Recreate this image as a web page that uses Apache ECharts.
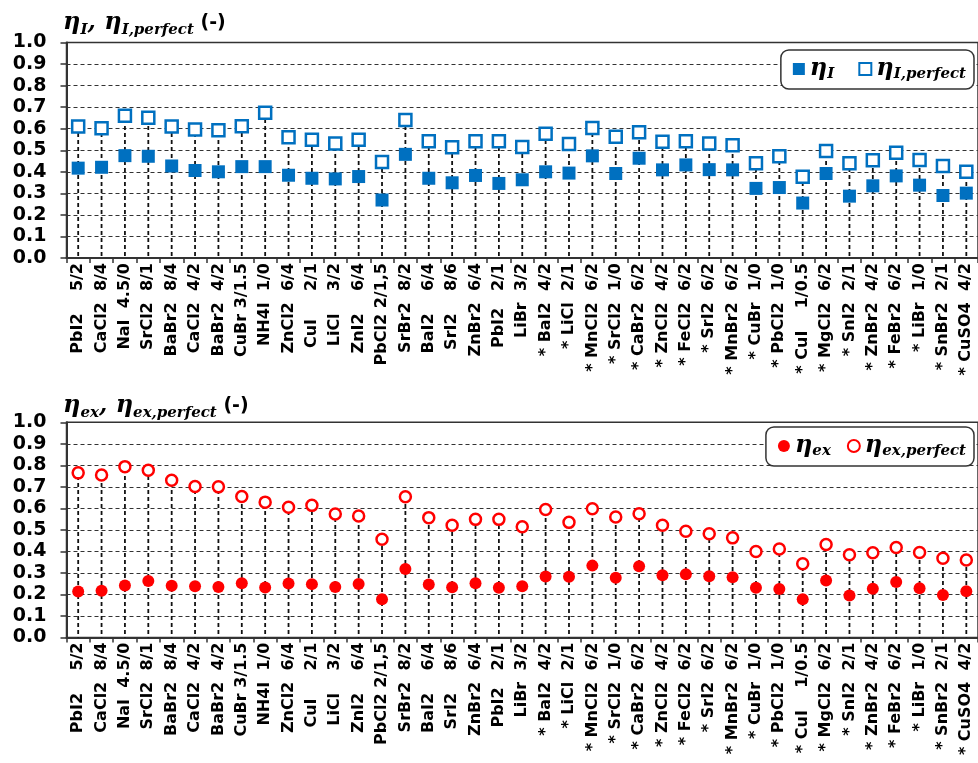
<!DOCTYPE html>
<html>
<head>
<meta charset="utf-8">
<script src="https://cdn.jsdelivr.net/npm/echarts@6/dist/echarts.min.js"></script>
<style>
  html, body { margin: 0; padding: 0; background: #fff; }
  #chart { width: 978px; height: 763px; }
</style>
</head>
<body>
<div id="chart"></div>
<script>
// Salt / hydration-step labels (name + ratio), shared by both panels
const categories = [
  'PbI2    5/2', 'CaCl2  8/4', 'NaI  4.5/0', 'SrCl2  8/1', 'BaBr2  8/4',
  'CaCl2  4/2', 'BaBr2  4/2', 'CuBr 3/1.5', 'NH4I  1/0', 'ZnCl2  6/4',
  'CuI     2/1', 'LiCl    3/2', 'ZnI2    6/4', 'PbCl2 2/1,5', 'SrBr2  8/2',
  'BaI2    6/4', 'SrI2    8/6', 'ZnBr2  6/4', 'PbI2   2/1', 'LiBr  3/2',
  '* BaI2  4/2', '* LiCl  2/1', '* MnCl2  6/2', '* SrCl2  1/0', '* CaBr2  6/2',
  '* ZnCl2  4/2', '* FeCl2  6/2', '* SrI2  6/2', '* MnBr2  6/2', '* CuBr  1/0',
  '* PbCl2  1/0', '* CuI    1/0.5', '* MgCl2  6/2', '* SnI2  2/1', '* ZnBr2  4/2',
  '* FeBr2  6/2', '* LiBr  1/0', '* SnBr2  2/1', '* CuSO4  4/2'
];

// Energy efficiency (top panel)
const etaI = [
  0.417, 0.421, 0.475, 0.472, 0.427, 0.406, 0.400, 0.424, 0.424, 0.384,
  0.370, 0.367, 0.378, 0.269, 0.481, 0.370, 0.349, 0.383, 0.346, 0.363,
  0.400, 0.394, 0.474, 0.392, 0.463, 0.409, 0.432, 0.410, 0.409, 0.323,
  0.327, 0.255, 0.392, 0.287, 0.335, 0.381, 0.338, 0.290, 0.301
];
const etaIPerfect = [
  0.610, 0.602, 0.660, 0.651, 0.610, 0.596, 0.593, 0.611, 0.674, 0.560,
  0.549, 0.531, 0.549, 0.446, 0.640, 0.542, 0.514, 0.542, 0.542, 0.515,
  0.576, 0.529, 0.603, 0.563, 0.583, 0.539, 0.542, 0.531, 0.523, 0.440,
  0.472, 0.377, 0.497, 0.440, 0.454, 0.488, 0.455, 0.427, 0.400
];

// Exergy efficiency (bottom panel)
const etaEx = [
  0.214, 0.217, 0.242, 0.263, 0.240, 0.238, 0.235, 0.252, 0.232, 0.251,
  0.248, 0.235, 0.249, 0.178, 0.318, 0.246, 0.234, 0.252, 0.231, 0.238,
  0.283, 0.282, 0.334, 0.278, 0.331, 0.289, 0.294, 0.285, 0.280, 0.231,
  0.225, 0.178, 0.265, 0.195, 0.226, 0.258, 0.229, 0.198, 0.215
];
const etaExPerfect = [
  0.765, 0.755, 0.794, 0.777, 0.731, 0.702, 0.700, 0.655, 0.629, 0.605,
  0.614, 0.574, 0.565, 0.457, 0.654, 0.557, 0.522, 0.549, 0.549, 0.515,
  0.595, 0.535, 0.598, 0.560, 0.575, 0.522, 0.494, 0.482, 0.463, 0.400,
  0.411, 0.343, 0.432, 0.385, 0.394, 0.418, 0.395, 0.368, 0.360
];

const yTicks = [0, 0.1, 0.2, 0.3, 0.4, 0.5, 0.6, 0.7, 0.8, 0.9, 1.0];

const BLUE = '#0070C0';
const RED = '#FF0000';

// Small repeating dash tile used to paint the vertical drop lines
const dashTile = (() => {
  const c = document.createElement('canvas');
  c.width = 4; c.height = 7;
  const ctx = c.getContext('2d');
  ctx.fillStyle = '#111';
  ctx.fillRect(0, 0, 4, 4);
  return c;
})();

const serifIt = { fontFamily: 'DejaVu Serif', fontStyle: 'italic', fontWeight: 'bold', color: '#000' };
const richText = (big, small, lh, shift) => ({
  e: Object.assign({}, serifIt, { fontSize: big, lineHeight: lh, verticalAlign: 'middle' }),
  s: Object.assign({}, serifIt, { fontSize: small, lineHeight: shift, verticalAlign: 'bottom' }),
  c: { fontFamily: 'DejaVu Sans', fontWeight: 'bold', fontSize: 19, color: '#000', lineHeight: lh, verticalAlign: 'middle' }
});

const gridLeft = 66.5;
const gridWidth = 917.6;
const grids = [
  { left: gridLeft, top: 42.5, width: gridWidth, height: 215.5 },
  { left: gridLeft, top: 422.3, width: gridWidth, height: 215.2 }
].map(g => Object.assign(g, { show: true, borderColor: '#333', borderWidth: 1.5, backgroundColor: 'transparent' }));

function xAxisFor(idx) {
  return {
    type: 'category', gridIndex: idx, data: categories, boundaryGap: true,
    axisLine: { show: true, lineStyle: { color: '#333', width: 2 } },
    axisTick: { show: true, length: 5, lineStyle: { color: '#333', width: 1.5 } },
    axisLabel: {
      interval: 0, rotate: 90, margin: 5, color: '#000',
      fontFamily: 'DejaVu Sans', fontWeight: 'bold', fontSize: 16
    },
    splitLine: { show: false }
  };
}
function yAxisFor(idx) {
  return {
    type: 'value', gridIndex: idx, min: yTicks[0], max: yTicks[yTicks.length - 1], interval: 0.1,
    axisLine: { show: true, lineStyle: { color: '#333', width: 2 } },
    axisTick: { show: true, length: 6, lineStyle: { color: '#333', width: 1.5 } },
    axisLabel: {
      margin: 20, color: '#000', fontFamily: 'DejaVu Sans', fontWeight: 'bold', fontSize: 19,
      formatter: v => v.toFixed(1)
    },
    splitLine: { show: true, lineStyle: { color: '#333', width: 1, type: [4, 3] } }
  };
}

// Dashed drop lines from each "perfect" point down to the category axis,
// drawn as hairline bars filled with the dash tile
function dropLines(values, idx) {
  return {
    type: 'bar', xAxisIndex: idx, yAxisIndex: idx, silent: true, z: 1,
    barWidth: 1.8, data: values,
    itemStyle: { color: { image: dashTile, repeat: 'repeat' } },
    emphasis: { disabled: true }
  };
}

const legendBase = {
  orient: 'horizontal', right: 4, itemGap: 24, itemWidth: 12, itemHeight: 12,
  backgroundColor: '#fff', borderColor: '#333', borderWidth: 1.5, borderRadius: 8,
  padding: [7, 8, 7, 12], selectedMode: false
};

const option = {
  backgroundColor: '#fff',
  animation: false,
  title: [
    {
      left: 58, top: 3,
      text: '{e|η}{s|I}{e|, }{e|η}{s|I,perfect}{c| (-)}',
      textStyle: { rich: richText(24, 15, 30, 22) }
    },
    {
      left: 58, top: 386,
      text: '{e|η}{s|ex}{e|, }{e|η}{s|ex,perfect}{c| (-)}',
      textStyle: { rich: richText(24, 15, 30, 22) }
    }
  ],
  legend: [
    Object.assign({}, legendBase, {
      top: 50, data: ['ηI', 'ηI,perfect'],
      formatter: n => n === 'ηI' ? '{e|η}{s|I}' : '{e|η}{s|I,perfect}',
      textStyle: { rich: richText(24, 15, 26, 19) }
    }),
    Object.assign({}, legendBase, {
      top: 427, data: ['ηex', 'ηex,perfect'], itemGap: 16,
      formatter: n => n === 'ηex' ? '{e|η}{s|ex}' : '{e|η}{s|ex,perfect}',
      textStyle: { rich: richText(24, 15, 26, 19) }
    })
  ],
  grid: grids,
  xAxis: [xAxisFor(0), xAxisFor(1)],
  yAxis: [yAxisFor(0), yAxisFor(1)],
  series: [
    dropLines(etaIPerfect, 0),
    dropLines(etaExPerfect, 1),
    {
      name: 'ηI', type: 'scatter', xAxisIndex: 0, yAxisIndex: 0, z: 3,
      symbol: 'rect', symbolSize: 13, data: etaI,
      itemStyle: { color: BLUE, opacity: 1 }
    },
    {
      name: 'ηI,perfect', type: 'scatter', xAxisIndex: 0, yAxisIndex: 0, z: 3,
      symbol: 'rect', symbolSize: 12, data: etaIPerfect,
      itemStyle: { color: '#fff', borderColor: BLUE, borderWidth: 2.5, opacity: 1 }
    },
    {
      name: 'ηex', type: 'scatter', xAxisIndex: 1, yAxisIndex: 1, z: 3,
      symbol: 'circle', symbolSize: 12, data: etaEx,
      itemStyle: { color: RED, opacity: 1 }
    },
    {
      name: 'ηex,perfect', type: 'scatter', xAxisIndex: 1, yAxisIndex: 1, z: 3,
      symbol: 'circle', symbolSize: 11, data: etaExPerfect,
      itemStyle: { color: '#fff', borderColor: RED, borderWidth: 2.5, opacity: 1 }
    }
  ]
};

const chart = echarts.init(document.getElementById('chart'), null, { renderer: 'canvas' });
chart.setOption(option);
</script>
</body>
</html>
